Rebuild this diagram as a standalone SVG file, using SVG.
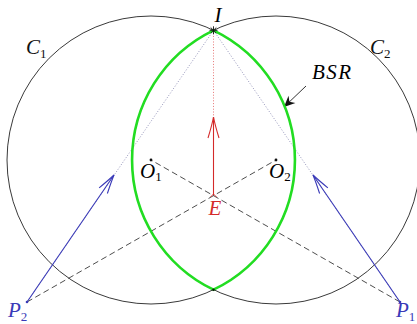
<svg xmlns="http://www.w3.org/2000/svg" width="417" height="324" viewBox="0 0 417 324">
<style>
.lbl{font-family:"Liberation Serif","Times New Roman",serif;font-style:italic;font-size:21px}
.sub{font-style:normal;font-size:13px}
.circ{fill:none;stroke:#3a3a3a;stroke-width:1}
.dash{fill:none;stroke:#3a3a3a;stroke-width:0.9;stroke-dasharray:6 3.5}
.dot{fill:none;stroke:#7a7aa8;stroke-width:0.8;stroke-dasharray:1 1.8}
.rdot{fill:none;stroke:#e05050;stroke-width:0.8;stroke-dasharray:1 1.8}
.blue{fill:none;stroke:#3a3ab8;stroke-width:1.1}
.red{fill:none;stroke:#d42a2a;stroke-width:1.1}
</style>
<defs>
<marker id="ab" markerUnits="userSpaceOnUse" markerWidth="40" markerHeight="40" refX="0" refY="0" orient="auto" overflow="visible">
<path d="M-19,-5 Q-7,-1.5 0,0 Q-7,1.5 -19,5" fill="none" stroke="#3a3ab8" stroke-width="1.1"/>
</marker>
<marker id="ar" markerUnits="userSpaceOnUse" markerWidth="40" markerHeight="40" refX="0" refY="0" orient="auto" overflow="visible">
<path d="M-21,-5.5 Q-8,-1.5 0,0 Q-8,1.5 -21,5.5" fill="none" stroke="#d42a2a" stroke-width="1.1"/>
</marker>
<marker id="ak" markerUnits="userSpaceOnUse" markerWidth="30" markerHeight="30" refX="0" refY="0" orient="auto" overflow="visible">
<path d="M0,0 L-11,-5 L-7.5,0 L-11,5 Z" fill="#111"/>
</marker>
</defs>
<g id="circle-C1"><circle class="circ" cx="151" cy="160" r="144"/></g>
<g id="circle-C2"><circle class="circ" cx="276" cy="160" r="144"/></g>
<g id="connectors">
<line class="dot" x1="213.5" y1="30.3" x2="27" y2="302"/>
<line class="dot" x1="213.5" y1="30.3" x2="400" y2="302"/>
<line class="rdot" x1="213.5" y1="30.3" x2="213.5" y2="117"/>
<line class="dash" x1="27" y1="302" x2="276" y2="160"/>
<line class="dash" x1="400" y1="302" x2="151" y2="160"/>
<line class="blue" x1="27" y1="302" x2="114" y2="175" marker-end="url(#ab)"/>
<line class="blue" x1="400" y1="302" x2="313" y2="175" marker-end="url(#ab)"/>
<line class="red" x1="213.5" y1="195" x2="213.5" y2="117" marker-end="url(#ar)"/>
<line x1="306" y1="86" x2="284" y2="107" stroke="#333" stroke-width="1" marker-end="url(#ak)"/>
</g>
<g id="BSR">
<path d="M213.5,30.3 A144,144 0 0 0 213.5,289.7 A144,144 0 0 0 213.5,30.3 Z" fill="none" stroke="#22dd22" stroke-width="2.6"/>
<text class="lbl" x="312" y="79" letter-spacing="1.5">BSR</text>
</g>
<g id="I">
<path d="M209.5,30.3 L217.5,30.3 M213.5,26.3 L213.5,34.3 M210.7,27.5 L216.3,33.1 M216.3,27.5 L210.7,33.1" stroke="#111" stroke-width="0.9"/>
<text class="lbl" x="218" y="22" text-anchor="middle">I</text>
</g>
<g id="bottom"><circle cx="213.5" cy="289.7" r="1.3" fill="#111"/></g>
<g id="O1"><circle cx="151" cy="160" r="1.4" fill="#111"/><text class="lbl" x="140" y="178">O<tspan class="sub" dy="3">1</tspan></text></g>
<g id="O2"><circle cx="276" cy="160" r="1.4" fill="#111"/><text class="lbl" x="269" y="178">O<tspan class="sub" dy="3">2</tspan></text></g>
<g id="E"><path d="M210.5,197 L213.5,194 L216.5,197" fill="none" stroke="#d42a2a" stroke-width="0.9"/><text class="lbl" x="215" y="215" text-anchor="middle" fill="#d42a2a">E</text></g>
<g id="P2"><circle cx="27" cy="302" r="1.3" fill="#3a3ab8"/><text class="lbl" x="8" y="317" fill="#3a3ab8">P<tspan class="sub" dy="4">2</tspan></text></g>
<g id="P1"><circle cx="400" cy="302" r="1.3" fill="#3a3ab8"/><text class="lbl" x="396" y="317" fill="#3a3ab8">P<tspan class="sub" dy="4">1</tspan></text></g>
<g id="C1-label"><text class="lbl" x="26" y="54" fill="#111">C<tspan class="sub" dy="4">1</tspan></text></g>
<g id="C2-label"><text class="lbl" x="370" y="54" fill="#111">C<tspan class="sub" dy="4">2</tspan></text></g>
</svg>
